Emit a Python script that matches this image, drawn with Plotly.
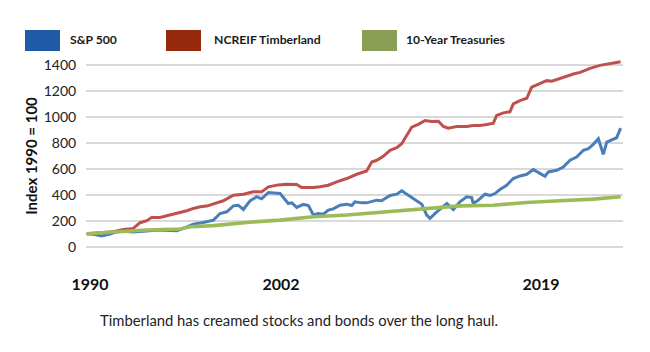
import plotly.graph_objects as go

# ---- data ----
SERIES_NAMES = ["S&P 500", "NCREIF Timberland", "10-Year Treasuries"]

sp_years = [1990.00, 1990.37, 1990.82, 1991.28, 1991.64, 1992.01, 1992.55, 1993.01, 1993.29, 1993.83,
            1994.38, 1994.93, 1995.29, 1995.84, 1996.39, 1996.94, 1997.30, 1997.67, 1998.03, 1998.30,
            1998.58, 1998.94, 1999.31, 1999.58, 1999.95, 2000.31, 2000.59, 2001.04, 2001.23, 2001.50,
            2001.86, 2002.14, 2002.41, 2002.68, 2002.96, 2003.23, 2003.50, 2003.87, 2004.24, 2004.51,
            2004.69, 2005.06, 2005.33, 2005.88, 2006.15, 2006.61, 2006.98, 2007.25, 2007.61, 2008.07,
            2008.35, 2008.62, 2008.80, 2009.17, 2009.72, 2010.08, 2010.44, 2010.81, 2011.08, 2011.17,
            2011.45, 2011.81, 2012.09, 2012.36, 2012.63, 2013.00, 2013.36, 2013.73, 2014.10, 2014.46,
            2014.83, 2015.10, 2015.28, 2015.74, 2016.10, 2016.47, 2016.83, 2017.20, 2017.47, 2017.74,
            2018.02, 2018.29, 2018.48, 2018.84, 2019.02, 2019.24]
sp_values = [100, 95, 82, 97, 115, 118, 113, 115, 120, 128,
             128, 123, 141, 174, 187, 205, 256, 269, 315, 320,
             287, 354, 385, 369, 418, 415, 410, 333, 338, 303,
             326, 318, 244, 256, 251, 282, 292, 320, 328, 318,
             346, 338, 338, 359, 354, 395, 405, 431, 397, 359,
             328, 244, 218, 269, 333, 287, 346, 385, 379, 333,
             359, 405, 395, 410, 441, 474, 526, 546, 559, 595,
             569, 544, 577, 590, 615, 667, 692, 744, 756, 790,
             833, 713, 808, 833, 841, 915]

tim_years = [1990.00, 1991.46, 1992.01, 1992.55, 1992.92, 1993.29, 1993.56, 1994.01, 1994.38, 1994.93,
             1995.48, 1995.84, 1996.21, 1996.57, 1996.94, 1997.48, 1998.03, 1998.58, 1999.12, 1999.58,
             1999.95, 2000.49, 2000.95, 2001.50, 2001.77, 2002.41, 2002.78, 2003.23, 2003.69, 2004.24,
             2004.79, 2005.15, 2005.33, 2005.61, 2005.88, 2006.24, 2006.61, 2006.98, 2007.25, 2007.52,
             2007.80, 2008.16, 2008.53, 2008.89, 2009.26, 2009.53, 2009.80, 2010.26, 2010.81, 2011.17,
             2011.54, 2011.91, 2012.27, 2012.45, 2012.82, 2013.18, 2013.36, 2013.73, 2014.10, 2014.37,
             2014.83, 2015.19, 2015.47, 2015.92, 2016.29, 2016.65, 2017.02, 2017.56, 2018.11, 2018.66,
             2019.24]
tim_values = [100, 115, 133, 141, 185, 200, 226, 226, 238, 256,
              277, 295, 308, 313, 328, 354, 397, 405, 423, 423,
              462, 477, 482, 480, 456, 456, 462, 474, 500, 526,
              559, 575, 585, 654, 667, 697, 744, 764, 795, 859,
              923, 944, 974, 967, 969, 928, 915, 928, 928, 936,
              936, 944, 954, 1013, 1033, 1041, 1103, 1128, 1146, 1231,
              1261, 1282, 1277, 1300, 1313, 1333, 1346, 1377, 1400, 1413,
              1428]

tr_years = [1990.00, 1991.46, 1993.29, 1995.11, 1995.66, 1996.94, 1998.76, 2000.59, 2002.41, 2004.24,
            2006.79, 2008.62, 2010.44, 2012.27, 2014.10, 2015.92, 2017.74, 2019.24]
tr_values = [100, 115, 128, 136, 154, 162, 187, 205, 231, 244,
             274, 295, 315, 320, 341, 354, 367, 385]

X_TICK_TEXT = ["1990", "2002", "2019"]
X_TICK_POS = [1990.18, 2000.64, 2014.88]
Y_TICKS = [0, 200, 400, 600, 800, 1000, 1200, 1400]
Y_TITLE = "Index 1990 = 100"
CAPTION = "Timberland has creamed stocks and bonds over the long haul."

# ---- styles ----
LINE_COLORS = ["#4a7ebb", "#c0504d", "#9bbb59"]
LINE_WIDTHS = [3, 3, 3.6]
LEGEND_COLORS = ["#1f5aa6", "#962a0e", "#8a9d55"]
FONT = "Lato, 'Open Sans', sans-serif"

W, H = 650, 352
ML, MR, MT, MB = 86, 27, 55, 95
PW, PH = W - ML - MR, H - MT - MB


def px_to_paper(x, y):
    return (x - ML) / PW, (H - MB - y) / PH


fig = go.Figure()
for name, xs, ys, c, w in zip(SERIES_NAMES, [sp_years, tim_years, tr_years],
                              [sp_values, tim_values, tr_values], LINE_COLORS, LINE_WIDTHS):
    fig.add_trace(go.Scatter(x=xs, y=ys, mode="lines", name=name,
                             line=dict(color=c, width=w), showlegend=False))

# custom legend (squares + bold labels)
legend_sq_x = [25, 166, 362]
legend_tx_x = [68, 212, 404]
shapes = []
annotations = []
for name, c, sx, tx in zip(SERIES_NAMES, LEGEND_COLORS, legend_sq_x, legend_tx_x):
    x0, y0 = px_to_paper(sx, 51)
    x1, y1 = px_to_paper(sx + 35, 30)
    shapes.append(dict(type="rect", xref="paper", yref="paper", x0=x0, y0=y0, x1=x1, y1=y1,
                       fillcolor=c, line=dict(width=0), layer="above"))
    ax, ay = px_to_paper(tx, 40)
    annotations.append(dict(xref="paper", yref="paper", x=ax, y=ay, xanchor="left", yanchor="middle",
                            text="<b>%s</b>" % name, showarrow=False,
                            font=dict(family=FONT, size=12.2, color="#1a1a1a")))

cx, cy = px_to_paper(299, 320)
annotations.append(dict(xref="paper", yref="paper", x=cx, y=cy, xanchor="center", yanchor="middle",
                        text=CAPTION, showarrow=False,
                        font=dict(family=FONT, size=14.8, color="#222222")))

fig.update_layout(
    width=W, height=H,
    margin=dict(l=ML, r=MR, t=MT, b=MB, pad=0),
    paper_bgcolor="white", plot_bgcolor="white",
    shapes=shapes, annotations=annotations,
    font=dict(family=FONT, color="#222222"),
    xaxis=dict(range=[1989.96, 2019.37], showgrid=False, zeroline=False, showline=False,
               tickmode="array", tickvals=X_TICK_POS, ticktext=["<b>%s</b>" % t for t in X_TICK_TEXT],
               ticks="outside", ticklen=13, tickcolor="rgba(0,0,0,0)",
               tickfont=dict(family=FONT, size=16, color="#111111")),
    yaxis=dict(range=[-80, 1480], tickmode="array", tickvals=Y_TICKS,
               showgrid=True, gridcolor="#d9d9d9", gridwidth=1.5, zeroline=False, showline=False,
               ticks="outside", ticklen=6, tickcolor="rgba(0,0,0,0)",
               tickfont=dict(family=FONT, size=14, color="#222222"),
               title=dict(text="<b>%s</b>" % Y_TITLE, standoff=2,
                          font=dict(family=FONT, size=15, color="#111111"))),
)

fig.write_html("out.html")
